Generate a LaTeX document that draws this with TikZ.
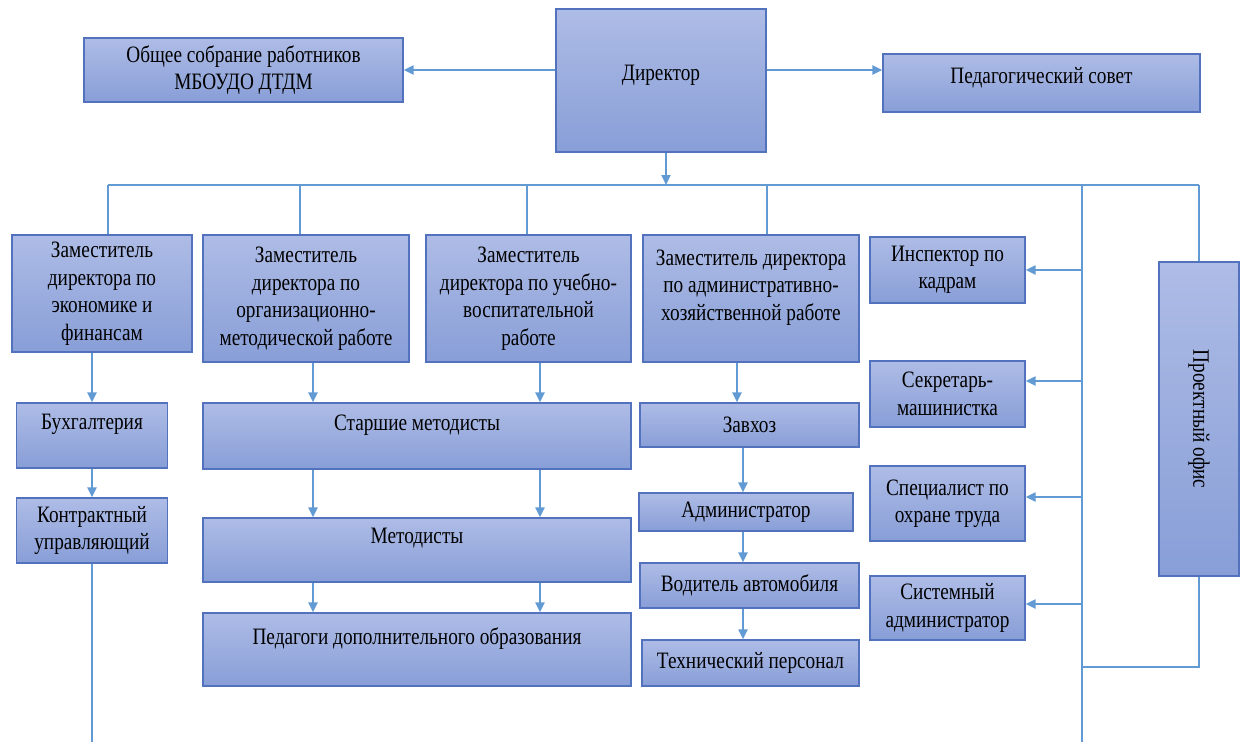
\documentclass[tikz,border=0pt]{standalone}
\usepackage{fontspec}
\setmainfont{Liberation Serif}[FakeStretch=0.82]
\usetikzlibrary{arrows.meta, positioning}
\definecolor{boxtop}{RGB}{174,188,230}
\definecolor{boxbot}{RGB}{136,158,215}
\definecolor{boxline}{RGB}{82,114,190}
\definecolor{linkline}{RGB}{98,154,212}

\begin{document}
\begin{tikzpicture}[x=1pt, y=-1pt,
    box/.style={draw=boxline, line width=1.2pt, top color=boxtop, bottom color=boxbot,
      align=center, inner sep=1pt, font=\fontsize{23.5}{27.5}\selectfont},
    dims/.style 2 args={minimum width=#1pt, minimum height=#2pt},
    link/.style={draw=linkline, line width=1.5pt},
    arr/.style={draw=linkline, line width=2pt, -{Triangle[length=10pt, width=9pt]}}]

    \useasboundingbox (0,0) rectangle (1243,742);

    % top row
    \node[box, dims={210}{143}, text depth=16pt] (dir) at (661,80.5) {Директор};
    \node[box, dims={319}{64}] (sobr) at (243.5,70) {Общее собрание работников\\МБОУДО ДТДМ};
    \node[box, dims={317}{58}, text depth=15pt] (pedsov) at (1041.5,83) {Педагогический совет};

    % deputies
    \node[box, dims={180}{117}] (zam1) at (102,293.5) {Заместитель\\директора по\\экономике и\\финансам};
    \node[box, dims={206}{127}] (zam2) at (306,298.5) {Заместитель\\директора по\\организационно-\\методической работе};
    \node[box, dims={205}{127}] (zam3) at (528.5,298.5) {Заместитель\\директора по учебно-\\воспитательной\\работе};
    \node[box, dims={216}{127}] (zam4) at (751,298.5) {Заместитель директора\\по административно-\\хозяйственной работе\\\mbox{}};

    % right column
    \node[box, dims={155}{66}] (insp) at (947.5,270) {Инспектор по\\кадрам};
    \node[box, dims={155}{66}] (sekr) at (947.5,394) {Секретарь-\\машинистка};
    \node[box, dims={155}{75}] (spec) at (947.5,503.5) {Специалист по\\охране труда};
    \node[box, dims={155}{64}] (sysadm) at (947.5,608) {Системный\\администратор};
    \node[box, dims={80}{314}] (proekt) at (1199,419) {\rotatebox{-90}{Проектный офис}};

    % left column
    \node[box, dims={151}{65}] (buh) at (92,435.5) {Бухгалтерия\\\mbox{}};
    \node[box, dims={151}{65}] (kontr) at (92,530.5) {Контрактный\\управляющий};

    % methodists
    \node[box, dims={428}{66}] (starsh) at (417,436) {Старшие методисты\\\mbox{}};
    \node[box, dims={428}{64}] (metod) at (417,550) {Методисты\\\mbox{}};
    \node[box, dims={428}{73}] (pedag) at (417,649.5) {Педагоги дополнительного образования\\\mbox{}};

    % household
    \node[box, dims={219}{44}] (zavhoz) at (749.5,425) {Завхоз};
    \node[box, dims={214}{38}] (adm) at (746,512) {Администратор};
    \node[box, dims={219}{45}] (vod) at (749.5,585.5) {Водитель автомобиля};
    \node[box, dims={217}{46}] (tech) at (750.5,663) {Технический персонал};

    % helper points
    \coordinate (busL) at (108,185);
    \coordinate (side) at (1082,185);
    \coordinate (sideend) at (1082,742);
    \coordinate (pjoin) at (1082,667);
    \coordinate (leftend) at (92,742);
    \coordinate (colA) at (313,0);
    \coordinate (colB) at (540,0);
    \coordinate (colC) at (737,0);
    \coordinate (colD) at (743,0);
    \coordinate (colF) at (666,0);
    \coordinate (s1) at (1082,270);
    \coordinate (s2) at (1082,381);
    \coordinate (s3) at (1082,497);
    \coordinate (s4) at (1082,604);

    % director links
    \draw[arr] (dir.west |- sobr.east) -- (sobr.east);
    \draw[arr] (dir.east |- sobr.east) -- (pedsov.west |- sobr.east);
    \draw[arr] (colF |- dir.south) -- (colF |- busL);

    % bus
    \draw[link] (busL) -- (proekt.north |- busL);
    \draw[link] (busL) -- (busL |- zam1.north);
    \draw[link] ([xshift=-6pt]zam2.north |- busL) -- ([xshift=-6pt]zam2.north);
    \draw[link] ([xshift=-1.5pt]zam3.north |- busL) -- ([xshift=-1.5pt]zam3.north);
    \draw[link] ([xshift=16pt]zam4.north |- busL) -- ([xshift=16pt]zam4.north);
    \draw[link] (proekt.north |- busL) -- (proekt.north);
    \draw[link] (side) -- (sideend);
    \draw[link] (proekt.south) |- (pjoin);

    % side staff
    \draw[arr] (s1) -- (s1 -| insp.east);
    \draw[arr] (s2) -- (s2 -| sekr.east);
    \draw[arr] (s3) -- (s3 -| spec.east);
    \draw[arr] (s4) -- (s4 -| sysadm.east);

    % economics
    \draw[arr] (leftend |- zam1.south) -- (leftend |- buh.north);
    \draw[arr] (buh.south) -- (kontr.north);
    \draw[link] (kontr.south) -- (leftend);

    % methodists
    \draw[arr] (colA |- zam2.south) -- (colA |- starsh.north);
    \draw[arr] (colB |- zam3.south) -- (colB |- starsh.north);
    \draw[arr] (colA |- starsh.south) -- (colA |- metod.north);
    \draw[arr] (colB |- starsh.south) -- (colB |- metod.north);
    \draw[arr] (colA |- metod.south) -- (colA |- pedag.north);
    \draw[arr] (colB |- metod.south) -- (colB |- pedag.north);

    % household
    \draw[arr] (colC |- zam4.south) -- (colC |- zavhoz.north);
    \draw[arr] (colD |- zavhoz.south) -- (colD |- adm.north);
    \draw[arr] (colD |- adm.south) -- (colD |- vod.north);
    \draw[arr] (colD |- vod.south) -- (colD |- tech.north);
\end{tikzpicture}
\end{document}
